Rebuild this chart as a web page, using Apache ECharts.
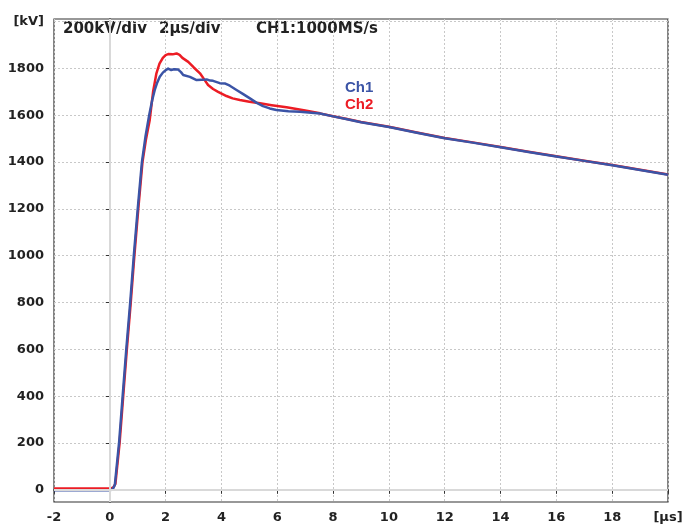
<!DOCTYPE html>
<html>
<head>
<meta charset="utf-8">
<script src="https://cdn.jsdelivr.net/npm/echarts@6/dist/echarts.min.js"></script>
<style>
  html, body { margin: 0; padding: 0; background: #fff; }
  #chart { width: 683px; height: 527px; }
</style>
</head>
<body>
<div id="chart"></div>
<script>
// time in us, voltage in kV
const ch1Time = [-2, 0, 0.1, 0.18, 0.33, 0.46, 0.59, 0.73, 0.86, 1.0, 1.15, 1.28, 1.41, 1.52, 1.61, 1.70, 1.79, 1.9, 2.0, 2.09, 2.2, 2.3, 2.45, 2.55, 2.63, 2.87, 3.11, 3.3, 3.47, 3.6, 3.70, 3.94, 4.12, 4.3, 4.54, 4.78, 5.02, 5.25, 5.49, 5.73, 5.97, 6.4, 6.81, 7.53, 8.0, 8.5, 9.0, 10, 11, 12, 13, 14, 15, 16, 17, 18, 19, 20];
const ch1Volt = [-2, -2, 2, 21, 199, 400, 600, 800, 1000, 1200, 1400, 1510, 1600, 1665, 1708, 1740, 1764, 1782, 1792, 1799, 1793, 1796, 1795, 1784, 1772, 1764, 1750, 1751, 1753, 1748, 1747, 1737, 1736, 1726, 1708, 1690, 1672, 1654, 1639, 1629, 1622, 1617, 1615, 1607, 1595, 1583, 1570, 1550, 1525, 1502, 1483, 1463, 1443, 1424, 1405, 1386, 1366, 1346];
const ch2Time = [-2, 0, 0.12, 0.2, 0.35, 0.48, 0.61, 0.75, 0.88, 1.02, 1.17, 1.3, 1.43, 1.55, 1.67, 1.78, 1.9, 2.0, 2.09, 2.25, 2.39, 2.5, 2.6, 2.81, 3.0, 3.23, 3.4, 3.52, 3.7, 3.88, 4.18, 4.4, 4.66, 5.0, 5.38, 5.8, 6.33, 7.0, 7.53, 8.0, 8.5, 9, 10, 11, 12, 13, 14, 15, 16, 17, 18, 19, 20];
const ch2Volt = [6, 6, 9, 25, 199, 400, 600, 800, 1000, 1200, 1400, 1500, 1580, 1700, 1779, 1820, 1845, 1857, 1861, 1860, 1864, 1858, 1845, 1828, 1805, 1779, 1750, 1729, 1712, 1700, 1682, 1672, 1665, 1658, 1651, 1643, 1634, 1620, 1608, 1596, 1584, 1571, 1551, 1526, 1503, 1484, 1464, 1444, 1425, 1406, 1387, 1367, 1347];
const yTicks = [0, 200, 400, 600, 800, 1000, 1200, 1400, 1600, 1800, 2000];

const zip = (xs, ys) => xs.map((x, i) => [x, ys[i]]);

let myChart = echarts.init(document.getElementById('chart'));

let labelFont = {
  fontFamily: 'DejaVu Sans',
  fontWeight: 'bold',
  fontSize: 13,
  color: '#222'
};

myChart.setOption({
  animation: false,
  grid: {
    left: 54, right: 15, top: 19, bottom: 25,
    show: true,
    borderColor: '#333',
    borderWidth: 1.2,
    outerBoundsMode: 'none'
  },
  legend: {
    orient: 'vertical',
    left: 335,
    top: 75,
    icon: 'none',
    itemWidth: 0,
    itemGap: 2,
    selectedMode: false,
    data: [
      { name: 'Ch1', textStyle: { color: '#3b54a6' } },
      { name: 'Ch2', textStyle: { color: '#ec1c24' } }
    ],
    textStyle: { fontFamily: 'Liberation Sans', fontWeight: 'bold', fontSize: 15 }
  },
  graphic: [
    { type: 'text', left: 63, top: 22, style: { text: '200kV/div', font: 'bold 15px "DejaVu Sans"', fill: '#222' } },
    { type: 'text', left: 159, top: 22, style: { text: '2μs/div', font: 'bold 15px "DejaVu Sans"', fill: '#222' } },
    { type: 'text', left: 256, top: 22, style: { text: 'CH1:1000MS/s', font: 'bold 15px "DejaVu Sans"', fill: '#222' } }
  ],
  xAxis: {
    type: 'value',
    min: -2,
    max: 20,
    interval: 2,
    axisLine: { lineStyle: { color: '#222', width: 1.5 } },
    axisTick: { show: true, inside: false, length: 4, lineStyle: { color: '#333' } },
    axisLabel: Object.assign({ margin: 9, formatter: v => v === 20 ? '[μs]' : String(v) }, labelFont),
    splitLine: { show: true, lineStyle: { color: '#c8c8c8', type: [2, 2], width: 1 } }
  },
  yAxis: {
    type: 'value',
    min: -52,
    max: 2011,
    axisLine: { show: true, lineStyle: { color: '#222', width: 1.5 } },
    axisTick: { show: true, inside: false, length: 4, customValues: yTicks, lineStyle: { color: '#333' } },
    axisLabel: Object.assign({ margin: 10, customValues: yTicks, formatter: v => v === 2000 ? '[kV]' : String(v) }, labelFont),
    splitLine: { show: true, lineStyle: { color: '#c8c8c8', type: [2, 2], width: 1 } }
  },
  series: [
    {
      name: 'zero',
      type: 'line',
      data: [],
      z: 1,
      silent: true,
      markLine: {
        silent: true,
        symbol: 'none',
        label: { show: false },
        lineStyle: { color: '#d9d9d9', type: 'solid', width: 2 },
        data: [{ xAxis: 0 }, { yAxis: 0 }]
      }
    },
    {
      name: 'Ch2',
      type: 'line',
      data: zip(ch2Time, ch2Volt),
      showSymbol: false,
      smooth: false,
      lineStyle: { color: '#ec1c24', width: 2.5, join: 'round' },
      itemStyle: { color: '#ec1c24' },
      z: 2
    },
    {
      name: 'Ch1',
      type: 'line',
      data: zip(ch1Time, ch1Volt),
      showSymbol: false,
      smooth: false,
      lineStyle: { color: '#3b54a6', width: 2.5, join: 'round' },
      itemStyle: { color: '#3b54a6' },
      z: 3
    }
  ]
});
</script>
</body>
</html>
